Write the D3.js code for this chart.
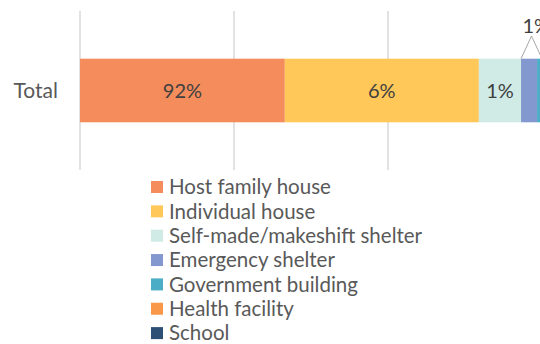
<!DOCTYPE html>
<html>
<head>
<meta charset="utf-8">
<script src="https://cdn.jsdelivr.net/npm/d3@7"></script>
<style>
  html, body { margin: 0; padding: 0; background: #fff; }
  svg { display: block; }
  text { font-family: Lato, "Open Sans", sans-serif; }
</style>
</head>
<body>
<svg id="chart" width="540" height="344"></svg>
<script>
// Shelter type shares (percent of total)
const categories = ["Total"];
const seriesNames = [
  "Host family house",
  "Individual house",
  "Self-made/makeshift shelter",
  "Emergency shelter",
  "Government building",
  "Health facility",
  "School"
];
const seriesValues = [91.65, 6.3, 1.37, 0.52, 0.16, 0, 0];
const seriesColors = ["#F58C5C", "#FFC859", "#D0EBE6", "#8498D0", "#4BADC6", "#F89848", "#2E4F75"];
const axisTicks = [85, 90, 95, 100];

const svg = d3.select("#chart");

const x = d3.scaleLinear().domain([85, 100]).range([80, 542]).clamp(true);
const y = d3.scaleBand().domain(categories).range([11, 170]).paddingInner(0.6).paddingOuter(0.3);

// gridlines
svg.append("g")
  .selectAll("line")
  .data(axisTicks)
  .join("line")
  .attr("x1", d => x(d)).attr("x2", d => x(d))
  .attr("y1", 11).attr("y2", 170)
  .attr("stroke", "#D9D9D9")
  .attr("stroke-width", 1.5);

// stacked segments
const rows = categories.map(c => {
  const r = { category: c };
  seriesNames.forEach((s, i) => r[s] = seriesValues[i]);
  return r;
});
const stacked = d3.stack().keys(seriesNames)(rows);

const segs = stacked.map((layer, i) => ({
  name: layer.key,
  color: seriesColors[i],
  value: seriesValues[i],
  x0: layer[0][0],
  x1: layer[0][1],
  category: layer[0].data.category
}));

svg.append("g")
  .selectAll("rect")
  .data(segs.filter(d => d.value > 0))
  .join("rect")
  .attr("x", d => x(d.x0))
  .attr("width", d => Math.max(0, x(d.x1) - x(d.x0)))
  .attr("y", d => y(d.category))
  .attr("height", y.bandwidth())
  .attr("fill", d => d.color);

const fmt = v => Math.round(v) + "%";
const midY = y("Total") + y.bandwidth() / 2;

// labels inside the wider segments
svg.append("g")
  .selectAll("text")
  .data(segs.filter(d => d.value >= 1))
  .join("text")
  .attr("x", d => (x(d.x0) + x(d.x1)) / 2)
  .attr("y", midY)
  .attr("dy", "0.35em")
  .attr("text-anchor", "middle")
  .attr("font-size", 20)
  .attr("fill", "#404040")
  .text(d => fmt(d.value));

// callout label for the emergency shelter segment
const em = segs[3];
const barTop = y("Total");
const apexX = (x(em.x0) + x(100)) / 2;
const apexY = 36;
svg.append("polyline")
  .attr("points", [[x(em.x0), barTop], [apexX, apexY], [x(100), barTop]].map(p => p.join(",")).join(" "))
  .attr("fill", "none")
  .attr("stroke", "#A6A6A6")
  .attr("stroke-width", 1);
svg.append("text")
  .attr("x", apexX - 9)
  .attr("y", 26)
  .attr("dy", "0.35em")
  .attr("font-size", 20)
  .attr("fill", "#404040")
  .text(fmt(em.value));

// category label
svg.append("text")
  .attr("x", 58)
  .attr("y", midY)
  .attr("dy", "0.35em")
  .attr("text-anchor", "end")
  .attr("font-size", 21)
  .attr("fill", "#595959")
  .text("Total");

// legend
const legend = svg.append("g")
  .selectAll("g")
  .data(seriesNames)
  .join("g")
  .attr("transform", (d, i) => `translate(151, ${187 + i * 24.35})`);
legend.append("rect")
  .attr("x", 0).attr("y", -6)
  .attr("width", 12).attr("height", 12)
  .attr("fill", (d, i) => seriesColors[i]);
legend.append("text")
  .attr("x", 18)
  .attr("dy", "0.35em")
  .attr("font-size", 20.5)
  .attr("fill", "#595959")
  .text(d => d);
</script>
</body>
</html>
